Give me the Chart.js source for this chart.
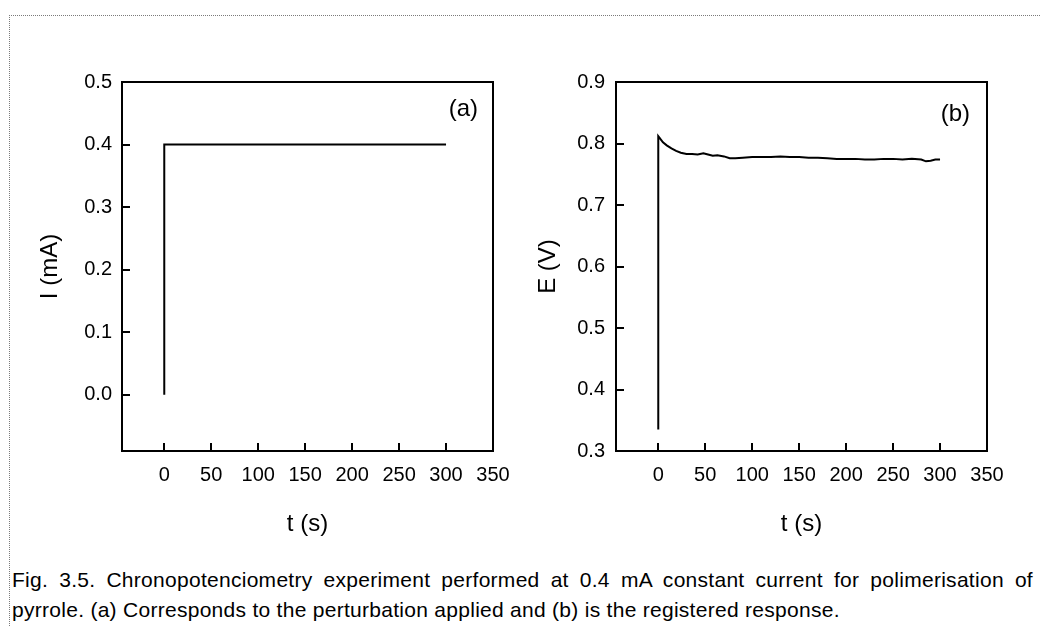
<!DOCTYPE html>
<html>
<head>
<meta charset="utf-8">
<script src="https://cdn.jsdelivr.net/npm/chart.js@4.4.1/dist/chart.umd.min.js"></script>
<style>
  html, body { margin: 0; padding: 0; background: #fff; }
  body { width: 1041px; height: 626px; position: relative; overflow: hidden; font-family: "Liberation Sans", Arial, sans-serif; }
  .frame { position: absolute; left: 9px; top: 15px; width: 1100px; height: 700px;
           border-left: 1px dotted #7a7a7a; border-top: 1px dotted #7a7a7a; }
  #chartA { position: absolute; left: 20px; top: 70px; }
  #chartB { position: absolute; left: 520px; top: 70px; }
  .caption { position: absolute; left: 12px; top: 565px; width: 1021px; font-size: 21px; letter-spacing: 0.28px;
             line-height: 30px; color: #000; }
  .caption .l1 { display: block; text-align: justify; text-align-last: justify; }
  .caption .l2 { display: block; }
</style>
</head>
<body>
<div class="frame"></div>
<canvas id="chartA" width="498" height="481"></canvas>
<canvas id="chartB" width="492" height="481"></canvas>
<div class="caption">
  <span class="l1">Fig. 3.5. Chronopotenciometry experiment performed at 0.4 mA constant current for polimerisation of</span>
  <span class="l2">pyrrole. (a) Corresponds to the perturbation applied and (b) is the registered response.</span>
</div>
<script>
// ========== Data ==========
const timeTicks = [0, 50, 100, 150, 200, 250, 300, 350];
const currentTicks = [0.0, 0.1, 0.2, 0.3, 0.4, 0.5];
const potentialTicks = [0.3, 0.4, 0.5, 0.6, 0.7, 0.8, 0.9];

// (a) applied current step
const currentTime = [0, 0, 300];
const currentValues = [0.0, 0.4, 0.4];

// (b) registered potential
const potentialTime = [0, 0, 2, 5, 9, 14, 19, 24, 30, 36, 42, 48, 53, 58, 63, 70, 76, 82, 90, 100,
  110, 120, 130, 140, 150, 160, 170, 180, 190, 200, 210, 220, 230, 240, 250, 260, 270, 280, 285, 290, 295, 300];
const potentialValues = [0.335, 0.812, 0.808, 0.802, 0.797, 0.792, 0.788, 0.785, 0.783, 0.783, 0.782, 0.784,
  0.782, 0.780, 0.781, 0.779, 0.776, 0.776, 0.777, 0.778, 0.778, 0.778, 0.779, 0.778, 0.778, 0.777, 0.777,
  0.776, 0.775, 0.775, 0.775, 0.774, 0.774, 0.775, 0.775, 0.774, 0.775, 0.774, 0.771, 0.772, 0.774, 0.774];

const FONT = "'Liberation Sans', Arial, sans-serif";

// ========== Helpers ==========
function toPoints(xs, ys) {
  return xs.map((x, i) => ({ x: x, y: ys[i] }));
}

// box around the plot + panel letter
const framePlugin = {
  id: "frame",
  afterDraw(chart, args, opts) {
    const { ctx, chartArea: a } = chart;
    ctx.save();
    ctx.strokeStyle = "#000";
    ctx.lineWidth = 2;
    ctx.strokeRect(a.left, a.top, a.right - a.left, a.bottom - a.top);
    ctx.fillStyle = "#000";
    ctx.font = "24px " + FONT;
    ctx.textAlign = "right";
    ctx.textBaseline = "middle";
    ctx.fillText(opts.label, a.right - opts.dx, a.top + opts.dy);
    ctx.restore();
  }
};

function makeChart(canvas, xs, ys, yTicks, yMin, yMax, yTitle, cfg) {
  return new Chart(canvas.getContext("2d"), {
    type: "line",
    data: {
      datasets: [{
        data: toPoints(xs, ys),
        borderColor: "#000",
        borderWidth: 2,
        pointRadius: 0,
        tension: 0,
        fill: false
      }]
    },
    options: {
      responsive: false,
      animation: false,
      layout: { padding: { top: 12, right: 25, left: 0, bottom: 0 } },
      plugins: {
        legend: { display: false },
        tooltip: { enabled: false },
        frame: { label: cfg.label, dx: cfg.dx, dy: cfg.dy }
      },
      scales: {
        x: {
          type: "linear",
          min: -45,
          max: 350,
          afterBuildTicks: s => { s.ticks = timeTicks.map(v => ({ value: v })); },
          afterFit: s => { s.height = 100; s.paddingLeft = 0; s.paddingRight = 0; },
          ticks: { color: "#000", font: { family: FONT, size: 20 }, padding: 20, maxRotation: 0,
                   callback: v => String(v) },
          grid: { drawOnChartArea: false, drawTicks: true, tickLength: -8, color: "#000", lineWidth: 2 },
          border: { display: true, color: "#000", width: 2 },
          title: { display: true, text: "t (s)", color: "#000", font: { family: FONT, size: 24 },
                   padding: { top: 0, bottom: 12 } }
        },
        y: {
          type: "linear",
          min: yMin,
          max: yMax,
          afterBuildTicks: s => { s.ticks = yTicks.map(v => ({ value: v })); },
          afterFit: s => { s.width = cfg.yWidth; s.paddingTop = 0; s.paddingBottom = 0; },
          ticks: { color: "#000", font: { family: FONT, size: 20 }, padding: cfg.tickPad,
                   callback: v => Number(v).toFixed(1) },
          grid: { drawOnChartArea: false, drawTicks: true, tickLength: -8, color: "#000", lineWidth: 2 },
          border: { display: true, color: "#000", width: 2 },
          title: { display: true, text: yTitle, color: "#000", font: { family: FONT, size: 24 },
                   padding: { top: cfg.titlePad, bottom: 0 } }
        }
      }
    },
    plugins: [framePlugin]
  });
}

// ========== Init ==========
makeChart(document.getElementById("chartA"), currentTime, currentValues, currentTicks, -0.09, 0.5, "I (mA)",
  { label: "(a)", dx: 15, dy: 27, yWidth: 102, tickPad: 18, titlePad: 16 });
makeChart(document.getElementById("chartB"), potentialTime, potentialValues, potentialTicks, 0.3, 0.9, "E (V)",
  { label: "(b)", dx: 17, dy: 32, yWidth: 96, tickPad: 19, titlePad: 14 });
</script>
</body>
</html>
